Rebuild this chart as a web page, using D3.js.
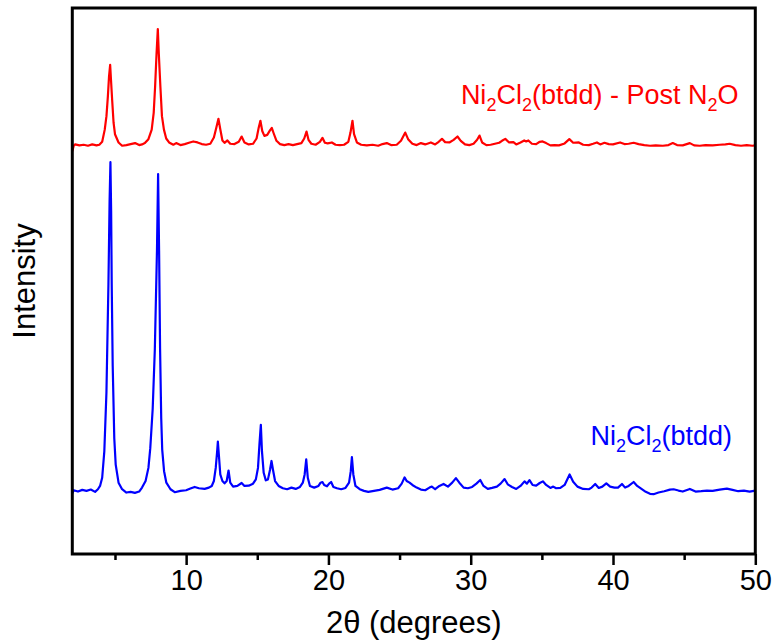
<!DOCTYPE html>
<html>
<head>
<meta charset="utf-8">
<script src="https://cdn.jsdelivr.net/npm/d3@7"></script>
<style>
  html, body { margin: 0; padding: 0; background: #fff; }
  svg { display: block; font-family: Arial, "Liberation Sans", sans-serif; }
</style>
</head>
<body>
<svg id="chart" width="778" height="643"></svg>
<script>
// ---------- DATA ----------
// Blue pattern: Ni2Cl2(btdd)  [2theta (deg), intensity (a.u.)]
const blueSeries = [
  [2.0,-0.7],[2.1,0.2],[2.4,-0.2],[2.7,0.3],[3.0,0],[3.3,0.4],[3.6,-0.3],[3.8,0.5],
  [3.95,1.5],[4.1,4],[4.25,12],[4.4,30],[4.54,63],[4.62,88],[4.68,100],[4.73,85],[4.77,63],[4.84,38],[4.95,16],[5.05,8],[5.25,2.5],[5.5,0.5],
  [5.8,-0.5],[6.1,-0.3],[6.4,-0.6],[6.7,-0.2],
  [6.9,1],[7.15,3],[7.35,7],[7.48,13],[7.65,25],[7.8,43],[7.95,73],[8.03,96.4],[8.1,73],[8.17,43],[8.25,22],[8.32,12.5],[8.45,6],[8.61,2.5],[8.9,0.5],
  [9.2,-0.4],[9.6,0],[10.0,0.2],[10.3,0.7],[10.6,1.2],[10.9,0.8],[11.3,0.6],[11.6,1.0],
  [11.8,1.5],[11.95,3],[12.08,7],[12.18,12],[12.23,15],[12.3,11],[12.4,5],[12.55,3],[12.7,2.3],
  [12.85,3],[12.98,6.2],[13.1,2.5],[13.3,1.3],[13.6,1.5],[13.9,2.4],[14.1,1.5],[14.4,1.6],[14.7,2.2],[14.9,3.5],
  [15.05,7],[15.15,14],[15.25,20.1],[15.33,12],[15.45,5.5],[15.6,3.2],[15.75,3.5],[15.9,6.5],[16.0,9.1],[16.1,6.5],[16.25,3],
  [16.5,1.5],[16.8,0.8],[17.1,0.5],[17.4,1],[17.7,0.6],[18.0,1.2],[18.2,2.5],
  [18.33,5],[18.44,9.6],[18.55,4],[18.7,1.5],[19.0,1.0],[19.3,1.5],[19.45,2.5],[19.58,2.7],[19.7,1.8],[19.9,1.4],[20.05,2.2],[20.19,2.7],[20.35,1.2],
  [20.6,0.8],[20.9,0.5],[21.2,0.9],[21.45,2.5],[21.57,6],[21.65,10.3],[21.75,5],[21.9,1.5],[22.2,0.5],[22.5,0],
  [22.8,-0.3],[23.2,0],[23.6,0.3],[24.1,1],[24.5,0.4],[24.9,0.8],[25.15,2.2],[25.35,4.1],[25.5,3],[25.7,2.5],[25.9,1.8],[26.2,1.0],
  [26.5,0.4],[26.8,0.2],[27.1,1.0],[27.27,1.3],[27.5,0.5],[27.8,1.5],[28.09,2.1],[28.4,1.3],[28.7,2.5],[28.96,3.9],[29.2,2.5],
  [29.5,1.0],[29.8,0.8],[30.1,1.2],[30.4,2.2],[30.67,3.3],[30.9,1.5],[31.2,0.6],[31.5,0.9],[31.84,1.3],[32.1,2.2],[32.38,3.6],
  [32.6,2.0],[32.9,1.2],[33.2,0.6],[33.5,1.5],[33.78,2.9],[33.95,2.2],[34.13,3.3],[34.35,1.8],[34.6,1.6],[34.85,2.4],[35.07,2.9],
  [35.3,1.8],[35.6,0.9],[35.8,1.3],[36.0,0.8],[36.3,0.9],[36.6,1.8],[36.95,5.0],[37.2,2.8],[37.5,1.3],[37.9,0.6],[38.3,0.5],
  [38.5,1.0],[38.75,2.1],[39.0,0.9],[39.25,1.3],[39.53,2.3],[39.8,1.3],[40.1,1.0],[40.35,1.0],[40.63,2.1],[40.85,1.0],[41.1,1.5],
  [41.45,2.7],[41.7,1.5],[42.0,0.6],[42.3,-0.3],[42.6,-0.9],[42.85,-1.0],[43.2,-0.5],[43.6,-0.1],[44.0,0.4],[44.26,0.5],[44.6,0.1],
  [44.9,-0.2],[45.4,0.6],[45.8,-0.2],[46.2,-0.1],[46.6,0.1],[47.0,0.0],[47.5,0.4],[48.0,0.7],[48.4,0.3],[48.8,-0.1],[49.2,0.1],
  [49.6,-0.2],[50.0,0.1]
];

// Red pattern: Ni2Cl2(btdd) - Post N2O  [2theta (deg), intensity (a.u.)], drawn with a vertical offset
const redSeries = [
  [2.0,-1.7],[2.1,0],[2.2,0.4],[2.5,0.1],[2.8,0.3],[3.1,0],[3.4,0.4],[3.7,0.1],
  [3.9,0.3],[4.1,1.2],[4.28,4.9],[4.4,9],[4.5,15],[4.58,21],[4.66,24.6],[4.72,20],[4.8,14],[4.9,7],[5.0,3.5],[5.25,1],[5.5,0],
  [5.8,0.2],[6.1,0.5],[6.41,0.8],[6.7,0.2],[6.9,0.4],
  [7.1,0.8],[7.35,2],[7.58,4.9],[7.72,10],[7.82,18],[7.92,28],[8.01,35.5],[8.08,28],[8.19,18],[8.3,9],[8.44,4.9],[8.6,2.2],[8.8,1],[9.1,0.3],
  [9.3,0.8],[9.6,0.2],[9.9,0.5],[10.2,0.9],[10.5,1.3],[10.8,1.0],[11.1,0.5],[11.4,0.3],[11.7,0.6],
  [11.95,2.5],[12.12,5.5],[12.27,8.2],[12.4,5],[12.55,1.6],[12.7,0.9],[12.9,1.6],[13.1,0.6],[13.4,0.5],[13.7,1.2],[13.9,2.8],
  [14.1,1.0],[14.4,0.4],[14.7,0.6],[14.95,2.2],[15.1,5.5],[15.22,7.6],[15.35,4.5],[15.5,3.0],[15.7,3.3],[15.88,4.6],[16.02,5.4],
  [16.15,3.8],[16.35,1.5],[16.6,0.5],[16.9,0.2],[17.2,0.5],[17.5,0.2],[17.8,0.5],[18.1,0.8],[18.3,2.2],[18.46,4.3],[18.6,1.8],
  [18.8,0.6],[19.1,0.3],[19.4,1.2],[19.58,2.4],[19.75,0.9],[19.95,0.7],[20.24,1.0],[20.5,0.3],[20.8,0.2],[21.1,0.3],[21.4,1.2],
  [21.55,4.0],[21.69,7.6],[21.8,3.5],[22.0,1.0],[22.3,0.3],[22.7,0.1],
  [23.1,0.3],[23.5,0.0],[23.8,0.5],[24.1,0.8],[24.4,0.2],[24.8,0.3],[25.1,1.5],[25.4,4.0],[25.6,2.0],[25.9,0.6],[26.2,0.2],
  [26.5,0.8],[26.8,0.4],[27.2,1.0],[27.5,0.4],[27.75,1.2],[27.98,2.1],[28.2,1.1],[28.5,1.0],[28.8,1.8],[29.07,2.8],[29.3,1.5],
  [29.6,0.4],[29.9,0.2],[30.2,0.6],[30.45,1.8],[30.62,3.1],[30.8,1.0],[31.1,0.2],[31.4,0.3],[31.7,0.6],[32.0,0.9],[32.2,1.5],
  [32.43,2.1],[32.7,1.0],[33.0,1.1],[33.2,0.4],[33.5,1.0],[33.76,1.6],[33.9,1.3],[34.05,1.6],[34.3,0.6],[34.6,0.5],[34.85,1.2],
  [35.05,1.3],[35.3,0.8],[35.6,0.1],[35.9,0.2],[36.2,0.1],[36.6,0.7],[36.93,2.0],[37.2,0.9],[37.6,1.0],[37.9,0.3],[38.3,0.2],
  [38.6,0.6],[38.87,1.0],[39.1,0.4],[39.4,0.9],[39.7,0.5],[40.0,0.4],[40.5,1.0],[40.8,0.5],[41.1,0.6],[41.45,0.9],[41.8,0.5],
  [42.2,0.2],[42.6,0.0],[43.0,0.1],[43.5,0.0],[43.9,0.2],[44.2,0.8],[44.5,0.2],[44.9,0.1],[45.4,0.8],[45.7,0.1],[46.1,0.0],
  [46.5,0.2],[47.0,0.1],[47.5,0.3],[47.9,0.4],[48.2,0.6],[48.6,0.2],[49.0,0.0],[49.4,0.2],[49.8,0.0],[50.0,0.1]
];
const redOffset = 105;

const xMajorTicks = [10, 20, 30, 40, 50];
const xMinorTicks = [5, 15, 25, 35, 45];
const xDomain = [2, 50];
const yDomain = [-19.2, 146.9];

const xLabel = "2\u03B8 (degrees)";
const yLabel = "Intensity";
const blueLabel = [["Ni", false], ["2", true], ["Cl", false], ["2", true], ["(btdd)", false]];
const redLabel = [["Ni", false], ["2", true], ["Cl", false], ["2", true], ["(btdd) - Post N", false], ["2", true], ["O", false]];

// ---------- LAYOUT ----------
const svg = d3.select("#chart");
const L = 72.3, R = 755.3, T = 8, B = 554;

const x = d3.scaleLinear().domain(xDomain).range([L, R]);
const y = d3.scaleLinear().domain(yDomain).range([B, T]);

svg.append("defs").append("clipPath").attr("id", "clip")
  .append("rect").attr("x", L).attr("y", T).attr("width", R - L).attr("height", B - T);

const line = d3.line().x(d => x(d[0])).y(d => y(d[1]));

const plot = svg.append("g").attr("clip-path", "url(#clip)");
plot.append("path").datum(blueSeries)
  .attr("fill", "none").attr("stroke", "#0000FF").attr("stroke-width", 2.2)
  .attr("stroke-linejoin", "round").attr("d", line);
plot.append("path").datum(redSeries.map(d => [d[0], d[1] + redOffset]))
  .attr("fill", "none").attr("stroke", "#FF0000").attr("stroke-width", 2.2)
  .attr("stroke-linejoin", "round").attr("d", line);

// x axis (major)
const xAxis = d3.axisBottom(x).tickValues(xMajorTicks).tickSize(11).tickPadding(4).tickFormat(d3.format("d"));
const gx = svg.append("g").attr("transform", `translate(0,${B})`).call(xAxis);
gx.select(".domain").remove();
gx.selectAll(".tick line").attr("stroke", "#000").attr("stroke-width", 2.5);
gx.selectAll(".tick text").attr("font-size", 29).attr("fill", "#000")
  .attr("font-family", "Arial, 'Liberation Sans', sans-serif");

// x axis (minor)
const xAxisMinor = d3.axisBottom(x).tickValues(xMinorTicks).tickSize(6).tickFormat("");
const gxm = svg.append("g").attr("transform", `translate(0,${B})`).call(xAxisMinor);
gxm.select(".domain").remove();
gxm.selectAll(".tick line").attr("stroke", "#000").attr("stroke-width", 2.5);

// frame
svg.append("rect").attr("x", L).attr("y", T).attr("width", R - L).attr("height", B - T)
  .attr("fill", "none").attr("stroke", "#000").attr("stroke-width", 3);

// axis titles
svg.append("text").attr("x", (L + R) / 2).attr("y", 633).attr("text-anchor", "middle")
  .attr("font-size", 31).attr("fill", "#000").text(xLabel);
svg.append("text").attr("transform", "translate(35,281) rotate(-90)").attr("text-anchor", "middle")
  .attr("font-size", 31).attr("fill", "#000").text(yLabel);

// series labels
function richLabel(parts, xEnd, yBase, color) {
  const t = svg.append("text").attr("x", xEnd).attr("y", yBase).attr("text-anchor", "end")
    .attr("font-size", 27).attr("fill", color);
  let shifted = false;
  parts.forEach(([s, sub]) => {
    const ts = t.append("tspan").text(s);
    if (sub) { ts.attr("font-size", 18).attr("dy", shifted ? 0 : 7); shifted = true; }
    else { ts.attr("dy", shifted ? -7 : 0); shifted = false; }
  });
}
richLabel(redLabel, 738.5, 103.5, "#FF0000");
richLabel(blueLabel, 732, 445, "#0000FF");
</script>
</body>
</html>
